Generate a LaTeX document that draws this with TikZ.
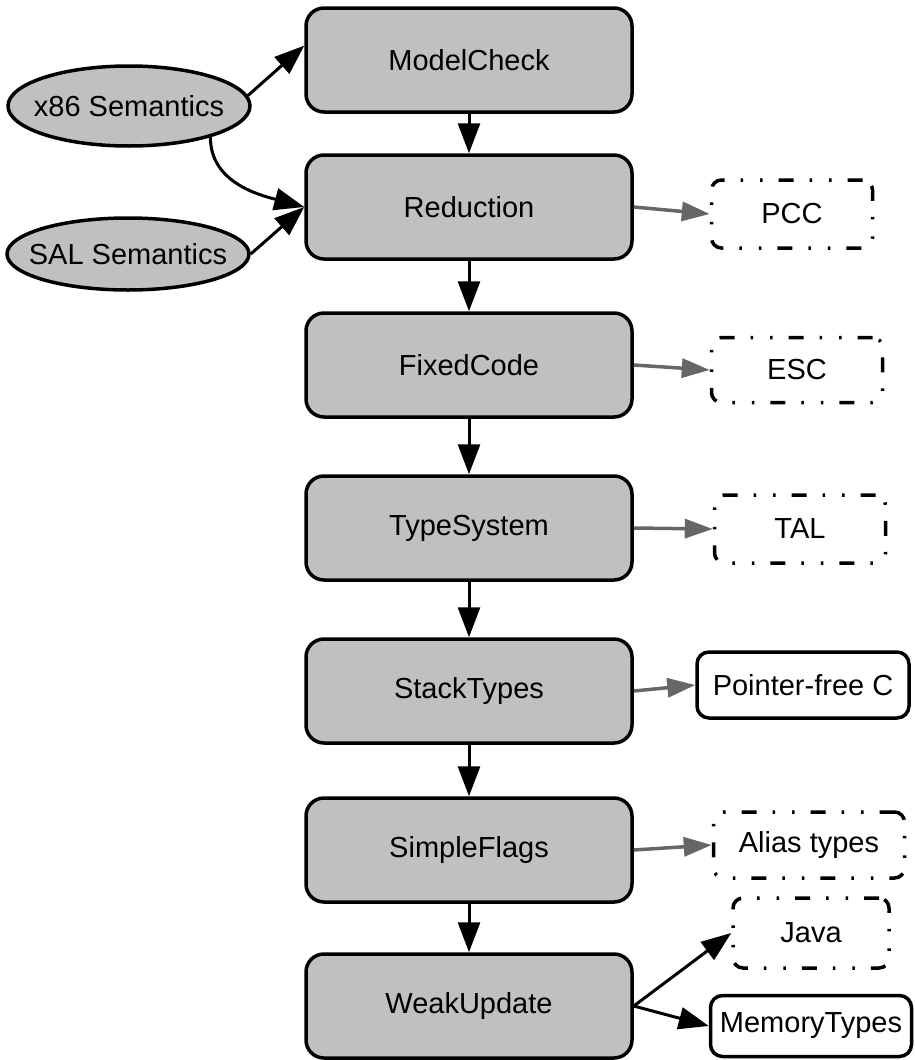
\documentclass[tikz,border=0pt]{standalone}
\usepackage{fontspec}
\setmainfont{Liberation Sans}
\usetikzlibrary{arrows.meta,shapes.geometric}
\definecolor{boxgray}{RGB}{192,192,192}
\definecolor{arrgray}{RGB}{102,102,102}
\tikzset{
  lbl/.style={font=\fontsize{29}{34}\selectfont},
  mainbox/.style={draw=black,line width=3.5pt,fill=boxgray,rounded corners=18pt,
    minimum width=326pt,minimum height=104pt,inner sep=0pt,lbl},
  ellnode/.style={draw=black,line width=3.5pt,fill=boxgray,ellipse,inner sep=0pt},
  dashbox/.style={draw=black,line width=3.5pt,fill=white,rounded corners=10pt,inner sep=0pt,
    dash pattern=on 15pt off 16pt on 2.5pt off 17pt on 2.5pt off 16pt,lbl},
  solidbox/.style={draw=black,line width=3.5pt,fill=white,rounded corners=12pt,inner sep=0pt,lbl},
  blk/.style={draw=black,line width=3pt,-{Triangle[length=30pt,width=22pt]}},
  gry/.style={draw=arrgray,line width=3.5pt,-{Triangle[length=28pt,width=19pt]}}
}
\begin{document}
\begin{tikzpicture}[x=1pt,y=-1pt]
\useasboundingbox (0,0) rectangle (914,1060);
% main column
\node[mainbox] (MC) at (469,60) {ModelCheck};
\node[mainbox] (RD) at (469,207) {Reduction};
\node[mainbox] (FC) at (469,365) {FixedCode};
\node[mainbox] (TS) at (469,528) {TypeSystem};
\node[mainbox] (ST) at (469,691) {StackTypes};
\node[mainbox] (SF) at (469,850) {SimpleFlags};
\node[mainbox] (WU) at (469,1006) {WeakUpdate};
% ellipses
\node[ellnode,minimum width=242pt,minimum height=80pt,label={[lbl]center:x86 Semantics}] (X86) at (129,106) {};
\node[ellnode,minimum width=242pt,minimum height=72pt,label={[lbl]center:SAL Semantics}] (SAL) at (128,254) {};
% right boxes
\node[dashbox,minimum width=161pt,minimum height=68pt] (PCC) at (792,214) {PCC};
\node[dashbox,minimum width=171pt,minimum height=65pt] (ESC) at (797,370) {ESC};
\node[dashbox,minimum width=171pt,minimum height=68pt] (TAL) at (800,529) {TAL};
\node[solidbox,minimum width=212pt,minimum height=66pt] (PFC) at (803,685) {Pointer-free C};
\node[dashbox,minimum width=191pt,minimum height=66pt] (AT) at (809,845) {Alias types};
\node[dashbox,minimum width=156pt,minimum height=70pt] (JV) at (811,933) {Java};
\node[solidbox,minimum width=201pt,minimum height=61pt] (MT) at (811,1026) {MemoryTypes};
% vertical chain
\draw[blk] (MC) -- (RD);
\draw[blk] (RD) -- (FC);
\draw[blk] (FC) -- (TS);
\draw[blk] (TS) -- (ST);
\draw[blk] (ST) -- (SF);
\draw[blk] (SF) -- (WU);
% semantics
\draw[blk] (X86.5) -- (MC.175);
\draw[blk] (X86.-21) to[out=-90,in=165] (RD.west);
\draw[blk] (SAL.east) -- (RD.west);
% side arrows
\draw[gry] (RD.east) -- (PCC.west);
\draw[gry] (FC.east) -- (ESC.west);
\draw[gry] (TS.east) -- (TAL.west);
\draw[gry] (ST.east) -- (PFC.west);
\draw[gry] (SF.east) -- (AT.west);
\draw[blk] (WU.east) -- (JV.west);
\draw[blk] (WU.east) -- (MT.west);
\end{tikzpicture}
\end{document}
